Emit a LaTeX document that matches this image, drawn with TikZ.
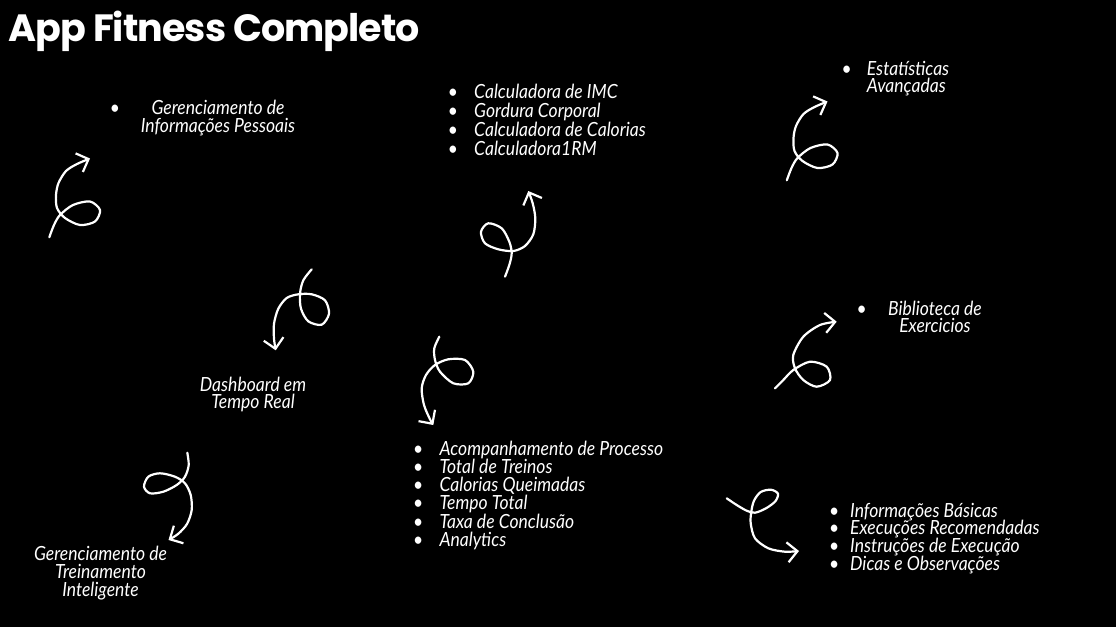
\documentclass[tikz,border=0pt]{standalone}
\usepackage{fontspec}
\usetikzlibrary{arrows.meta}
\newfontfamily\titlefont[LetterSpace=-2.5]{Poppins}
\newfontfamily\handfont[FakeStretch=0.9]{Lato}

\begin{document}
\begin{tikzpicture}[x=1pt, y=-1pt]
    \tikzset{hand/.style={text=white, inner sep=0pt, font=\handfont\itshape\fontsize{19.5}{19.5}\selectfont}}
    \tikzset{curl/.style={white, line width=2.2pt, line cap=round, line join=round, -{Straight Barb[length=10pt, width=20pt]}}}

    % Background
    \fill[black] (0,0) rectangle (1116,627);

    % Title
    \node[text=white, inner sep=0pt, anchor=base west, font=\titlefont\bfseries\fontsize{38}{40}\selectfont] (title) at (8,41.7) {App Fitness Completo};

    % Informacoes pessoais
    \node[hand, anchor=base] (pessoal-b) at (115,114) {\textbullet};
    \node[hand, anchor=base] (pessoal-1) at (218,114) {Gerenciamento de};
    \node[hand, anchor=base] (pessoal-2) at (218,132.7) {Informações Pessoais};
    \draw[curl] plot[smooth] coordinates {(49.3,237.3) (54,225) (60,215) (73,205) (90,201.5) (100,210) (95,221.5) (80,225) (65,218) (57,208) (56,195) (58.5,183) (66,171) (77,164) (90,158.5)};

    % Calculadoras
    \foreach \txt [count=\i from 0] in {Calculadora de IMC, Gordura Corporal, Calculadora de Calorias, Calculadora1RM}{
        \node[hand, anchor=base] (calc-b\i) at (453,98.3+18.9*\i) {\textbullet};
        \node[hand, anchor=base west] (calc-\i) at (474,98.3+18.9*\i) {\txt};
    }
    \draw[curl] plot[smooth] coordinates {(505,276.7) (509.3,265) (511.7,253.3) (509.3,241.7) (501.7,228.3) (488.3,223.3) (481,231.7) (485,243.3) (498.3,249.3) (513.3,251) (525,246) (533.3,234.3) (535.3,218.3) (532.7,203.3) (528.3,191)};

    % Estatisticas
    \node[hand, anchor=base] (stats-b) at (846.7,75) {\textbullet};
    \node[hand, anchor=base west] (stats-1) at (866.7,75) {Estatísticas};
    \node[hand, anchor=base west] (stats-2) at (866.7,92.7) {Avançadas};
    \draw[curl] plot[smooth] coordinates {(786.8,180.3) (791.5,168) (797.5,158) (810.5,148) (827.5,144.5) (837.5,153) (832.5,164.5) (817.5,168) (802.5,161) (794.5,151) (793.5,138) (796,126) (803.5,114) (814.5,107) (827.5,101.5)};

    % Dashboard
    \draw[curl] plot[smooth] coordinates {(311.7,269.3) (303.3,280.3) (300,293.7) (301,308.7) (308.3,321.3) (321.7,324.7) (329,313.7) (325,300.3) (311.7,294.3) (298.3,294.3) (286.7,298) (278.3,308.7) (274,323.7) (274,338.7) (275.7,350.3)};
    \node[hand, anchor=base] (dash-1) at (253,391) {Dashboard em};
    \node[hand, anchor=base] (dash-2) at (253,408.3) {Tempo Real};

    % Processo
    \draw[curl] plot[smooth] coordinates {(439.3,336.7) (434.3,348.3) (435,360) (440,371.7) (453.3,383.3) (468.3,383.3) (473.3,371.7) (465,360) (448.3,359.3) (435,365) (426,375) (421.7,388.3) (424,405) (430,419.3) (433.3,425)};
    \foreach \txt [count=\i from 0] in {Acompanhamento de Processo, Total de Treinos, Calorias Queimadas, Tempo Total, Taxa de Conclusão, Analytics}{
        \node[hand, anchor=base] (proc-b\i) at (418.3,455+18.3*\i) {\textbullet};
        \node[hand, anchor=base west] (proc-\i) at (439.3,455+18.3*\i) {\txt};
    }

    % Biblioteca
    \node[hand, anchor=base] (bib-b) at (861.7,315) {\textbullet};
    \node[hand, anchor=base] (bib-1) at (935,315) {Biblioteca de};
    \node[hand, anchor=base] (bib-2) at (935,332.7) {Exercicios};
    \draw[curl] plot[smooth] coordinates {(775,388.3) (783.3,380) (793.3,370) (810,361.7) (826.7,366.7) (830,380) (816.7,386.7) (803.3,380) (795,368.3) (793.3,355) (803.3,336.7) (820,325) (836.7,321.7)};

    % Exercicios
    \draw[curl] plot[smooth] coordinates {(726.7,498.3) (736.7,505) (746.7,510.7) (755,512.7) (766,508.3) (775.3,501.3) (778,493.7) (771,489.7) (760.7,492) (754,500.7) (751.3,511.7) (750.7,523.3) (755,538.3) (768.3,548.3) (785,551.7) (799,551)};
    \foreach \txt [count=\i from 0] in {Informações Básicas, Execuções Recomendadas, Instruções de Execução, Dicas e Observações}{
        \node[hand, anchor=base] (exe-b\i) at (834.3,517.3+17.6*\i) {\textbullet};
        \node[hand, anchor=base west] (exe-\i) at (850,517.3+17.6*\i) {\txt};
    }

    % Treinamento
    \draw[curl] plot[smooth] coordinates {(187.3,452.7) (188.7,465) (185,476.7) (176.7,485) (163.3,491.7) (150,493.3) (144,486.7) (148.3,476.7) (160,473.3) (175,476.7) (185,483.3) (190.7,495) (191.7,510) (187,524) (178,534) (168.5,540)};
    \node[hand, anchor=base] (treino-1) at (100.5,560.7) {Gerenciamento de};
    \node[hand, anchor=base] (treino-2) at (100.5,578.3) {Treinamento};
    \node[hand, anchor=base] (treino-3) at (100.5,596) {Inteligente};
\end{tikzpicture}
\end{document}
